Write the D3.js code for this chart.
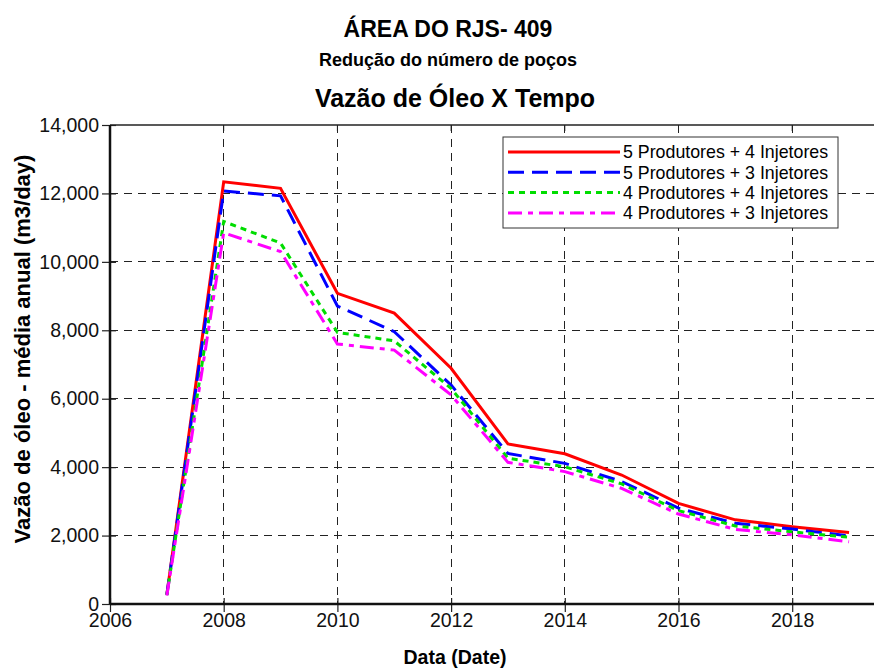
<!DOCTYPE html>
<html>
<head>
    <meta charset="utf-8">
    <title>Vazão de Óleo X Tempo</title>
    <style>
        body { margin: 0; background: #fff; }
        svg { display: block; font-family: "Liberation Sans", Arial, sans-serif; }
        .grid line { stroke: #222; stroke-width: 1px; stroke-dasharray: 8,6; shape-rendering: crispEdges; }
        .axis path, .axis line { stroke: #222; }
        .axis text { font-size: 19.5px; fill: #111; }
        .series { fill: none; stroke-width: 3px; }
    </style>
</head>
<body>
<svg id="chart" width="874" height="668"></svg>

<script src="https://d3js.org/d3.v7.min.js"></script>
<script>
// values (m3/day, annual mean)
var years = [2007, 2008, 2009, 2010, 2011, 2012, 2013, 2014, 2015, 2016, 2017, 2018, 2019];
var p5i4 = [280, 12340, 12150, 9080, 8500, 6890, 4680, 4390, 3770, 2940, 2460, 2260, 2090];
var p5i3 = [270, 12070, 11930, 8710, 7960, 6400, 4400, 4110, 3580, 2800, 2360, 2190, 1990];
var p4i4 = [260, 11180, 10550, 7940, 7690, 6300, 4260, 4010, 3510, 2730, 2280, 2110, 1950];
var p4i3 = [250, 10850, 10300, 7600, 7420, 6110, 4140, 3870, 3380, 2630, 2180, 2020, 1820];

var seriesNames = ["5 Produtores + 4 Injetores", "5 Produtores + 3 Injetores",
                   "4 Produtores + 4 Injetores", "4 Produtores + 3 Injetores"];
var seriesColors = ["#ff0000", "#0000ff", "#00dd00", "#ff00ff"];
var seriesDash = ["none", "16,8", "6,5", "14,6,5,6"];

var xTicks = [2006, 2008, 2010, 2012, 2014, 2016, 2018];
var yTicks = [0, 2000, 4000, 6000, 8000, 10000, 12000, 14000];

var series = [p5i4, p5i3, p4i4, p4i3].map(function(v, i){
    return { name: seriesNames[i], color: seriesColors[i], dash: seriesDash[i], values: v };
});

var svg = d3.select("#chart");

var plotLeft = 110, plotTop = 125, plotBottom = 604;

// the frame runs on past the right edge of the picture (to 2020)
var x = d3.scaleLinear().domain([2006, 2020]).range([plotLeft, plotLeft + 14 * 56.85]);
var y = d3.scaleLinear().domain([0, 14000]).range([plotBottom, plotTop]);

// titles
svg.append("text").attr("x", 448).attr("y", 37).attr("text-anchor", "middle")
    .style("font-weight", "bold").style("font-size", "23px").text("ÁREA DO RJS- 409");
svg.append("text").attr("x", 448).attr("y", 66).attr("text-anchor", "middle")
    .style("font-weight", "bold").style("font-size", "18px").text("Redução do número de poços");
svg.append("text").attr("x", 455).attr("y", 107).attr("text-anchor", "middle")
    .style("font-weight", "bold").style("font-size", "25px").text("Vazão de Óleo X Tempo");

// grid
var grid = svg.append("g").attr("class", "grid");
grid.selectAll(".gx").data(xTicks.slice(1)).enter().append("line")
    .attr("x1", function(d){ return x(d); }).attr("x2", function(d){ return x(d); })
    .attr("y1", plotTop).attr("y2", plotBottom);
grid.selectAll(".gy").data(yTicks.slice(1, -1)).enter().append("line")
    .attr("x1", plotLeft).attr("x2", 874)
    .attr("y1", function(d){ return y(d); }).attr("y2", function(d){ return y(d); });

// axes
svg.append("g").attr("class", "axis")
    .attr("transform", "translate(0," + plotBottom + ")")
    .call(d3.axisBottom(x).tickValues(xTicks).tickFormat(d3.format("d")).tickSizeInner(8).tickSizeOuter(0))
    .call(function(g){
        g.select(".domain").remove();
        g.selectAll(".tick line").attr("y1", -6).attr("stroke-width", 1.2);
        g.selectAll(".tick text").attr("dy", "0.8em").attr("y", 7);
    });

svg.append("g").attr("class", "axis")
    .attr("transform", "translate(" + plotLeft + ",0)")
    .call(d3.axisLeft(y).tickValues(yTicks).tickFormat(d3.format(",")).tickSizeInner(8).tickSizeOuter(0))
    .call(function(g){
        g.select(".domain").remove();
        g.selectAll(".tick line").attr("x1", 6).attr("x2", -8).attr("stroke-width", 1.2);
        g.selectAll(".tick text").attr("x", -11).attr("dy", "0.32em");
    });

// top ticks (inside)
svg.append("g").selectAll("line").data(xTicks.slice(1)).enter().append("line")
    .attr("x1", function(d){ return x(d); }).attr("x2", function(d){ return x(d); })
    .attr("y1", plotTop).attr("y2", plotTop + 6).attr("stroke", "#222");

// frame lines
svg.append("line").attr("x1", plotLeft).attr("x2", 874).attr("y1", plotTop).attr("y2", plotTop)
    .attr("stroke", "#222").attr("stroke-width", 1.5);
svg.append("line").attr("x1", plotLeft).attr("x2", 874).attr("y1", plotBottom).attr("y2", plotBottom)
    .attr("stroke", "#111").attr("stroke-width", 2.5);
svg.append("line").attr("x1", plotLeft).attr("x2", plotLeft).attr("y1", plotTop).attr("y2", plotBottom)
    .attr("stroke", "#111").attr("stroke-width", 2.5);

// axis titles
svg.append("text").attr("x", 455).attr("y", 664).attr("text-anchor", "middle")
    .style("font-weight", "bold").style("font-size", "19.5px").text("Data (Date)");
svg.append("text").attr("transform", "translate(30,349) rotate(-90)")
    .attr("text-anchor", "middle")
    .style("font-weight", "bold").style("font-size", "22px").text("Vazão de óleo - média anual (m3/day)");

// lines
var line = d3.line()
    .x(function(d, i){ return x(years[i]); })
    .y(function(d){ return y(d); });

svg.selectAll(".series").data(series).enter().append("path")
    .attr("class", "series")
    .attr("d", function(d){ return line(d.values); })
    .attr("stroke", function(d){ return d.color; })
    .attr("stroke-dasharray", function(d){ return d.dash; });

// legend
var legend = svg.append("g").attr("transform", "translate(503,137)");
legend.append("rect").attr("width", 335).attr("height", 91)
    .attr("fill", "#fff").attr("stroke", "#333").attr("stroke-width", 1);

var rows = legend.selectAll(".row").data(series).enter().append("g")
    .attr("transform", function(d, i){ return "translate(0," + (15 + i * 20.3) + ")"; });
rows.append("line").attr("x1", 5).attr("x2", 117).attr("y1", 0).attr("y2", 0)
    .attr("stroke", function(d){ return d.color; })
    .attr("stroke-width", 3)
    .attr("stroke-dasharray", function(d){ return d.dash; });
rows.append("text").attr("x", 120).attr("dy", "0.35em")
    .style("font-size", "17.8px").text(function(d){ return d.name; });
</script>
</body>
</html>
